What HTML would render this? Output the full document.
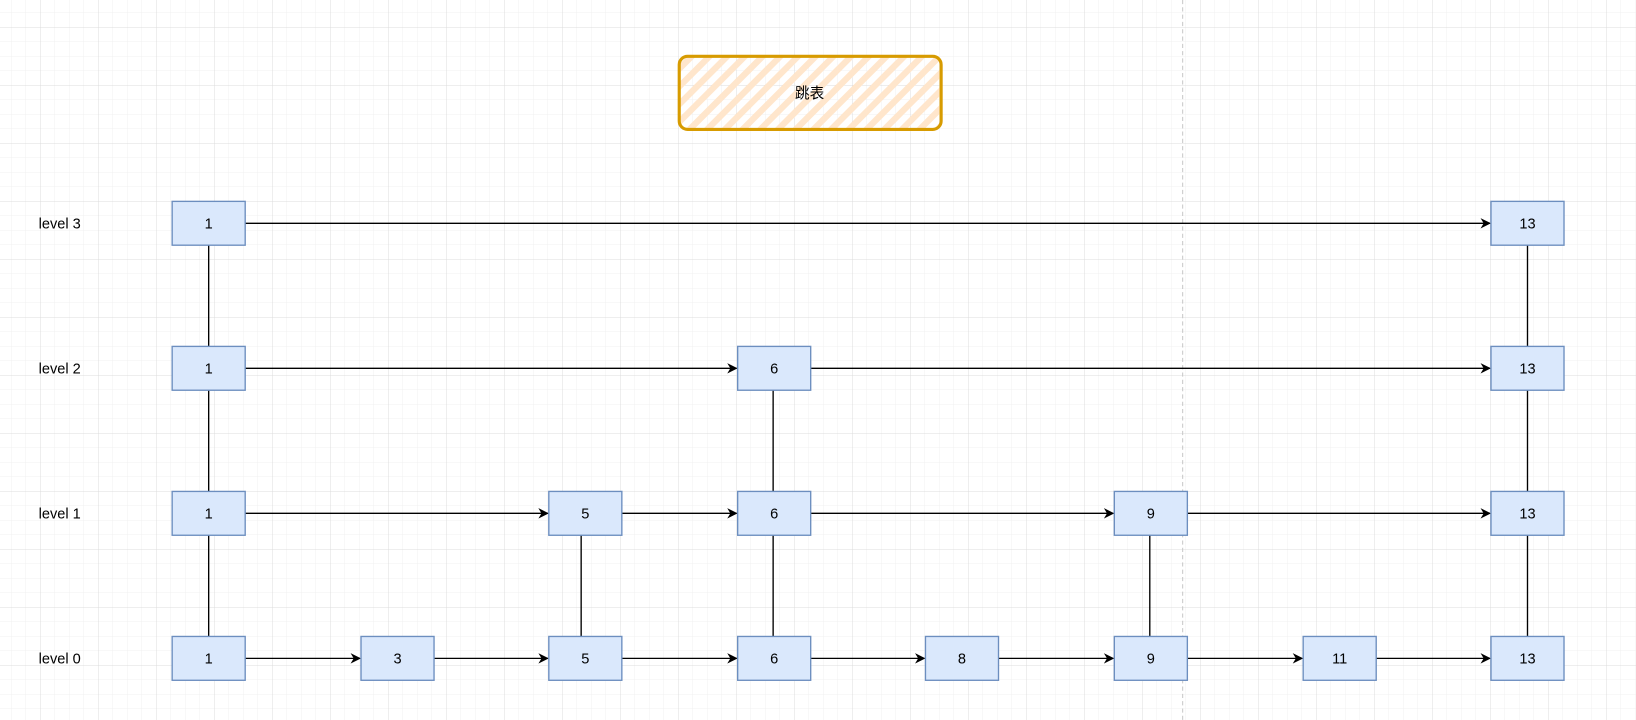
<!DOCTYPE html>
<html><head><meta charset="utf-8"><style>
body{margin:0;background:#fff;}
svg{display:block}
text{font-family:"Liberation Sans","Noto Sans CJK SC",sans-serif;font-size:14px;}
</style></head><body>
<svg width="1636" height="720" xmlns="http://www.w3.org/2000/svg">
<defs>
<pattern id="minor" width="14.5" height="14.5" patternUnits="userSpaceOnUse" x="11" y="12.5">
<path d="M0 0V14.5M0 0H14.5" stroke="#f0f0f0" stroke-width="1" fill="none"/>
</pattern>
<pattern id="major" width="58" height="58" patternUnits="userSpaceOnUse" x="40" y="27">
<path d="M0 0V58M0 0H58" stroke="#dcdcdc" stroke-width="1" fill="none"/>
</pattern>
<pattern id="hatch" width="12" height="12" patternUnits="userSpaceOnUse" patternTransform="rotate(45)">
<rect width="6" height="12" fill="#ffe6cc"/>
</pattern>
<marker id="ar" markerWidth="10" markerHeight="10" refX="9" refY="5" orient="auto" markerUnits="userSpaceOnUse">
<path d="M0 0L10 5L0 10L3 5Z" fill="#000"/>
</marker>
</defs>
<rect width="1636" height="720" fill="url(#minor)"/>
<rect width="1636" height="720" fill="url(#major)"/>
<g transform="scale(1.04337)">
<line x1="1133.5" y1="0" x2="1133.5" y2="720" stroke="#c8c8c8" stroke-dasharray="4 3"/>
<rect x="651" y="54" width="251" height="70" rx="8" fill="url(#hatch)" stroke="#d79b00" stroke-width="3"/>
<text x="776" y="94" text-anchor="middle">跳表</text>
<g stroke="#000" stroke-width="1.3">
<line x1="200" y1="235" x2="200" y2="610"/>
<line x1="1464" y1="235" x2="1464" y2="610"/>
<line x1="741" y1="374" x2="741" y2="610"/>
<line x1="557" y1="513" x2="557" y2="610"/>
<line x1="1102" y1="513" x2="1102" y2="610"/>
</g>
<g stroke="#000" stroke-width="1.3" marker-end="url(#ar)">
<line x1="235" y1="214" x2="1428" y2="214"/>
<line x1="235" y1="353" x2="706" y2="353"/>
<line x1="777" y1="353" x2="1428" y2="353"/>
<line x1="235" y1="492" x2="525" y2="492"/>
<line x1="596" y1="492" x2="706" y2="492"/>
<line x1="777" y1="492" x2="1067" y2="492"/>
<line x1="1138" y1="492" x2="1428" y2="492"/>
<line x1="235" y1="631" x2="345" y2="631"/>
<line x1="416" y1="631" x2="525" y2="631"/>
<line x1="596" y1="631" x2="706" y2="631"/>
<line x1="777" y1="631" x2="886" y2="631"/>
<line x1="957" y1="631" x2="1067" y2="631"/>
<line x1="1138" y1="631" x2="1248" y2="631"/>
<line x1="1319" y1="631" x2="1428" y2="631"/>
</g>
<g fill="#dae8fc" stroke="#6c8ebf" stroke-width="1.3">
<rect x="165" y="193" width="70" height="42"/><rect x="1429" y="193" width="70" height="42"/>
<rect x="165" y="332" width="70" height="42"/><rect x="707" y="332" width="70" height="42"/><rect x="1429" y="332" width="70" height="42"/>
<rect x="165" y="471" width="70" height="42"/><rect x="526" y="471" width="70" height="42"/><rect x="707" y="471" width="70" height="42"/><rect x="1068" y="471" width="70" height="42"/><rect x="1429" y="471" width="70" height="42"/>
<rect x="165" y="610" width="70" height="42"/><rect x="346" y="610" width="70" height="42"/><rect x="526" y="610" width="70" height="42"/><rect x="707" y="610" width="70" height="42"/><rect x="887" y="610" width="70" height="42"/><rect x="1068" y="610" width="70" height="42"/><rect x="1249" y="610" width="70" height="42"/><rect x="1429" y="610" width="70" height="42"/>
</g>
<g text-anchor="middle" fill="#000">
<text x="200" y="219">1</text><text x="1464" y="219">13</text>
<text x="200" y="358">1</text><text x="742" y="358">6</text><text x="1464" y="358">13</text>
<text x="200" y="497">1</text><text x="561" y="497">5</text><text x="742" y="497">6</text><text x="1103" y="497">9</text><text x="1464" y="497">13</text>
<text x="200" y="636">1</text><text x="381" y="636">3</text><text x="561" y="636">5</text><text x="742" y="636">6</text><text x="922" y="636">8</text><text x="1103" y="636">9</text><text x="1284" y="636">11</text><text x="1464" y="636">13</text>
</g>
<g fill="#000">
<text x="37" y="219">level 3</text>
<text x="37" y="358">level 2</text>
<text x="37" y="497">level 1</text>
<text x="37" y="636">level 0</text>
</g>
</g>
</svg>
</body></html>
